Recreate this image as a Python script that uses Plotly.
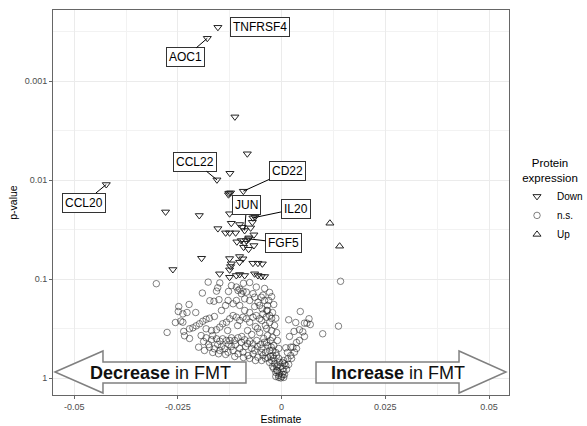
import plotly.graph_objects as go
import numpy as np

# ---- data -----------------------------------------------------------------
# proteins with significantly lower abundance (p < 0.1)
down_est = [-0.01536, -0.01791, -0.01559, -0.00923, -0.00892, -0.00692, -0.00796, -0.04226,
            -0.01126, -0.00827, -0.01246, -0.0127, -0.0123, -0.0128, -0.02797, -0.01984,
            -0.01254, -0.00644, -0.01213, -0.01013, -0.00947, -0.01536, -0.0135, -0.01254,
            -0.01109, -0.00747, -0.00706, -0.00668, -0.00788, -0.00851, -0.00892, -0.01078,
            -0.00972, -0.00668, -0.00916, -0.00796, -0.01929, -0.01254, -0.01213, -0.01013,
            -0.00933, -0.01013, -0.00692, -0.00571, -0.00465, -0.01254, -0.02621, -0.01495,
            -0.01254, -0.01092, -0.01013, -0.00892, -0.00651, -0.00571, -0.00489, -0.0041,
            -0.0123]
down_p = [2.85e-4, 3.68e-4, 0.00991, 0.0129, 0.0322, 0.0240, 0.0391, 0.01105,
          0.00229, 0.0054, 0.0085, 0.0135, 0.0134, 0.0140, 0.0209, 0.0227,
          0.0218, 0.0236, 0.0272, 0.0280, 0.0298, 0.0308, 0.0340, 0.0340,
          0.0340, 0.0303, 0.0266, 0.0356, 0.0382, 0.0407, 0.0433, 0.0419,
          0.0407, 0.0457, 0.0475, 0.0498, 0.0614, 0.0618, 0.0699, 0.0590,
          0.0622, 0.0673, 0.0689, 0.0689, 0.0699, 0.0804, 0.0798, 0.0882,
          0.0955, 0.0917, 0.0896, 0.0917, 0.0882, 0.0917, 0.0939, 0.0939,
          0.0745]
down_name = ["TNFRSF4", "AOC1", "CCL22", "CD22", "JUN", "IL20", "FGF5", "CCL20"] + [""] * 49

# proteins with significantly higher abundance
up_est = [0.01164, 0.01398]
up_p = [0.0272, 0.0464]

# non-significant proteins
ns_est = [
    -0.0302, -0.0191, -0.0177, -0.0157, -0.0151, -0.0163, -0.0173, -0.0129, -0.0117, -0.0109,
    -0.0105, -0.0097, -0.0085, -0.0089, -0.0101, -0.0077, -0.0069, -0.0061, -0.0065, -0.0057,
    -0.0049, -0.0041, -0.0053, -0.0047, -0.0149, -0.0154, -0.0109, -0.0101, -0.0093, -0.0045,
    -0.0041, -0.0029,
    -0.0248, -0.0249, -0.0238, -0.0228, -0.0223, -0.0243, -0.0238, -0.0276, -0.0236, -0.0234,
    -0.0222, -0.0214, -0.0206, -0.0198, -0.0190, -0.0182, -0.0174, -0.0182, -0.0169, -0.0157,
    -0.0149, -0.0142, -0.0133, -0.0125, -0.0117, -0.0109, -0.0101, -0.0093, -0.0085, -0.0077,
    -0.0069, -0.0061, -0.0053, -0.0045, -0.0037, -0.0029, -0.0089, -0.0077, -0.0065, -0.0034,
    -0.0029, -0.0036, -0.0024, -0.0034, -0.0106, -0.0130, -0.0082, -0.0058,
    -0.0194, -0.0182, -0.0169, -0.0157, -0.0149, -0.0142, -0.0133, -0.0121, -0.0113, -0.0105,
    -0.0097, -0.0089, -0.0077, -0.0069, -0.0060, -0.0051, -0.0041, -0.0033, -0.0025,
    -0.0174, -0.0162, -0.0149, -0.0137, -0.0129, -0.0117, -0.0105, -0.0093, -0.0081, -0.0069,
    -0.0057, -0.0045, -0.0033, -0.0021, -0.0200, -0.0152,
    -0.0024, -0.0017, -0.0012, -0.0019, -0.0010, -0.0014, -0.0005, -0.0007, 0.0000, -0.0002,
    0.0002, 0.0005, -0.0010, -0.0029, -0.0022, -0.0014, -0.0007, -0.0027, -0.0019, -0.0012,
    -0.0039, -0.0048, -0.0034, -0.0024, -0.0039, -0.0022,
    0.0045, 0.0066, 0.0061, 0.0069, 0.0055, 0.0017, -0.0014, 0.0099, 0.0137, 0.0043,
    0.0051, 0.0030, 0.0019, 0.0043, 0.0027, 0.0022, 0.0031, 0.0022, 0.0015, 0.0010,
    0.0007, 0.0003, 0.0142, 0.0036, 0.0014, 0.0010, 0.0005,
    -0.0188, -0.0176, -0.0166, -0.0154, -0.0145, -0.0128, -0.0121, -0.0111, -0.0101, -0.0087,
    -0.0082, -0.0072, -0.0065, -0.0058, -0.0048, -0.0043, -0.0036, -0.0029, -0.0027, -0.0019,
    -0.0039, -0.0048, -0.0063, -0.0077, -0.0092, -0.0113, -0.0135, -0.0166, -0.0186, -0.0125,
    -0.0096, -0.0072, -0.0053, -0.0063, -0.0048, -0.0036, -0.0031, -0.0024, -0.0019, -0.0022,
    -0.0017, -0.0012, -0.0010, -0.0007, -0.0005, -0.0002, 0.0002, -0.0014, -0.0007, 0.0005,
    0.0007, -0.0012, -0.0022, 0.0012, 0.0017, 0.0024, 0.0036, 0.0055, 0.0034,
    -0.0222, -0.0256, -0.0207, -0.0145, -0.0135, -0.0162, -0.0128, -0.0077, -0.0092, -0.0121,
]
ns_p = [
    0.111, 0.138, 0.107, 0.132, 0.161, 0.167, 0.165, 0.164, 0.177, 0.164,
    0.130, 0.140, 0.135, 0.158, 0.184, 0.164, 0.140, 0.120, 0.152, 0.171,
    0.152, 0.164, 0.184, 0.199, 0.109, 0.122, 0.120, 0.126, 0.132, 0.145,
    0.124, 0.136,
    0.189, 0.212, 0.224, 0.217, 0.180, 0.265, 0.272, 0.345, 0.337, 0.373,
    0.317, 0.310, 0.296, 0.282, 0.266, 0.254, 0.248, 0.317, 0.330, 0.324,
    0.305, 0.282, 0.272, 0.251, 0.233, 0.242, 0.261, 0.242, 0.251, 0.272,
    0.242, 0.233, 0.251, 0.224, 0.242, 0.233, 0.207, 0.217, 0.189, 0.184,
    0.274, 0.315, 0.330, 0.371, 0.294, 0.330, 0.330, 0.315,
    0.371, 0.391, 0.409, 0.400, 0.423, 0.400, 0.416, 0.391, 0.416, 0.391,
    0.433, 0.409, 0.423, 0.450, 0.416, 0.457, 0.433, 0.468, 0.486,
    0.486, 0.505, 0.525, 0.505, 0.546, 0.525, 0.567, 0.546, 0.590, 0.567,
    0.614, 0.590, 0.622, 0.590, 0.486, 0.567,
    0.663, 0.711, 0.762, 0.798, 0.836, 0.875, 0.897, 0.939, 0.962, 0.995,
    0.918, 0.855, 0.745, 0.693, 0.525, 0.550, 0.632, 0.416, 0.468, 0.590,
    0.550, 0.501, 0.207, 0.249, 0.294, 0.388,
    0.212, 0.251, 0.278, 0.287, 0.278, 0.257, 0.248, 0.356, 0.298, 0.324,
    0.340, 0.337, 0.379, 0.416, 0.486, 0.486, 0.546, 0.590, 0.637, 0.493,
    0.716, 0.804, 0.105, 0.501, 0.550, 0.745, 0.663,
    0.426, 0.457, 0.371, 0.457, 0.479, 0.457, 0.479, 0.457, 0.501, 0.479,
    0.447, 0.501, 0.525, 0.479, 0.550, 0.397, 0.436, 0.525, 0.604, 0.632,
    0.632, 0.663, 0.663, 0.632, 0.618, 0.604, 0.576, 0.550, 0.525, 0.416,
    0.379, 0.362, 0.346, 0.301, 0.261, 0.207, 0.164, 0.150, 0.180, 0.217,
    0.294, 0.346, 0.416, 0.501, 0.693, 0.762, 0.693, 0.962, 0.984, 0.984,
    0.918, 0.836, 0.762, 0.816, 0.727, 0.632, 0.436, 0.379, 0.274,
    0.397, 0.274, 0.217, 0.207, 0.184, 0.238, 0.133, 0.108, 0.110, 0.116,
]

p_threshold = 0.1

x_ticks = [-0.05, -0.025, 0, 0.025, 0.05]
x_ticktext = ["-0.05", "-0.025", "0", "0.025", "0.05"]
y_ticks = [0.001, 0.01, 0.1, 1]
y_ticktext = ["0.001", "0.01", "0.1", "1"]

# label placement offsets (pixels) for the named proteins: (ax, ay, arrow)
label_offsets = {
    "TNFRSF4": (42, 0, False),
    "AOC1": (-22, 19, True),
    "CCL22": (-22, -18, True),
    "CD22": (44, -20, True),
    "JUN": (2, -25, True),
    "IL20": (43, -9, True),
    "FGF5": (35, 4, True),
    "CCL20": (-22, 18, True),
}

FONT = "Liberation Sans, Arial, sans-serif"

# panel geometry in pixels
L, R, T, B = 53, 509, 10, 395
W, H = 587, 426

fig = go.Figure()

fig.add_trace(go.Scatter(
    x=down_est, y=down_p, mode="markers", name="Down",
    marker=dict(symbol="triangle-down-open", size=7, color="#222222",
                line=dict(width=1, color="#222222")),
))
fig.add_trace(go.Scatter(
    x=ns_est, y=ns_p, mode="markers", name="n.s.",
    marker=dict(symbol="circle-open", size=6.5, color="rgba(30,30,30,0.55)",
                line=dict(width=1, color="rgba(30,30,30,0.55)")),
))
fig.add_trace(go.Scatter(
    x=up_est, y=up_p, mode="markers", name="Up",
    marker=dict(symbol="triangle-up-open", size=7, color="#222222",
                line=dict(width=1, color="#222222")),
))

# labelled proteins
for e, p, name in zip(down_est, down_p, down_name):
    if not name:
        continue
    ax, ay, arrow = label_offsets[name]
    common = dict(x=e, y=np.log10(p), text=name,
                  font=dict(family=FONT, size=12, color="black"),
                  bgcolor="white", bordercolor="#333333", borderwidth=1, borderpad=2)
    if arrow:
        fig.add_annotation(**common, showarrow=True, arrowhead=0, arrowwidth=1,
                           arrowcolor="black", ax=ax, ay=ay, standoff=0)
    else:
        fig.add_annotation(**common, showarrow=False, xshift=ax, yshift=-ay)

# significance threshold
fig.add_shape(type="line", xref="paper", x0=0, x1=1, yref="y",
              y0=np.log10(p_threshold), y1=np.log10(p_threshold),
              line=dict(color="black", width=1.2, dash="6px,4px"))

# direction arrows along the bottom of the panel
def to_paper(px, py):
    return (px - L) / (R - L), (B - py) / (B - T)

left_arrow = [(55, 372), (103, 351), (103, 362), (246, 362), (246, 383), (103, 383), (103, 393)]
right_arrow = [(316, 362), (459, 362), (459, 351), (506, 372), (459, 393), (459, 383), (316, 383)]
for pts in (left_arrow, right_arrow):
    coords = [to_paper(*pt) for pt in pts]
    path = "M " + " L ".join(f"{x:.4f},{y:.4f}" for x, y in coords) + " Z"
    fig.add_shape(type="path", xref="paper", yref="paper", path=path,
                  fillcolor="white", line=dict(color="#808080", width=1.5), layer="above")

for txt, px in (("<b>Decrease</b> in FMT", 160.5), ("<b>Increase</b> in FMT", 398)):
    xp, yp = to_paper(px, 372.5)
    fig.add_annotation(x=xp, y=yp, xref="paper", yref="paper", text=txt, showarrow=False,
                       xanchor="center", yanchor="middle",
                       font=dict(family=FONT, size=18, color="#111111"))

fig.update_layout(
    width=W, height=H,
    margin=dict(l=L, r=W - R, t=T, b=H - B, autoexpand=False),
    paper_bgcolor="white", plot_bgcolor="white",
    font=dict(family=FONT, color="black"),
    legend=dict(
        title=dict(text="&nbsp;&nbsp;&nbsp;&nbsp;Protein<br>&nbsp;expression", side="top",
                   font=dict(family=FONT, size=11.5, color="black")),
        font=dict(family=FONT, size=10, color="black"),
        x=(517 - L) / (R - L), xanchor="left", y=to_paper(0, 152)[1], yanchor="top",
        itemwidth=30, tracegroupgap=2, bgcolor="rgba(0,0,0,0)",
    ),
    xaxis=dict(
        range=[-0.0551, 0.0548], tickvals=x_ticks, ticktext=x_ticktext,
        showgrid=True, gridcolor="#ebebeb", gridwidth=1,
        minor=dict(tickvals=[-0.0375, -0.0125, 0.0125, 0.0375], showgrid=True,
                   gridcolor="#f2f2f2", gridwidth=0.6, ticklen=0),
        zeroline=False, showline=True, mirror=True, linecolor="#666666", linewidth=1,
        ticks="outside", ticklen=3, tickcolor="#666666", automargin=False,
        tickfont=dict(family=FONT, size=9, color="#4d4d4d"),
        title=dict(text="Estimate", font=dict(family=FONT, size=10.5, color="black"), standoff=4),
    ),
    yaxis=dict(
        type="log", range=[0.17, -3.72], tickvals=y_ticks, ticktext=y_ticktext,
        showgrid=True, gridcolor="#ebebeb", gridwidth=1,
        minor=dict(tickvals=[10 ** -3.5, 10 ** -2.5, 10 ** -1.5, 10 ** -0.5], showgrid=True,
                   gridcolor="#f2f2f2", gridwidth=0.6, ticklen=0),
        zeroline=False, showline=True, mirror=True, linecolor="#666666", linewidth=1,
        ticks="outside", ticklen=3, tickcolor="#666666", automargin=False,
        tickfont=dict(family=FONT, size=9, color="#4d4d4d"),
        title=dict(text="p-value", font=dict(family=FONT, size=10.5, color="black"), standoff=4),
    ),
)

fig.write_html("out.html")
